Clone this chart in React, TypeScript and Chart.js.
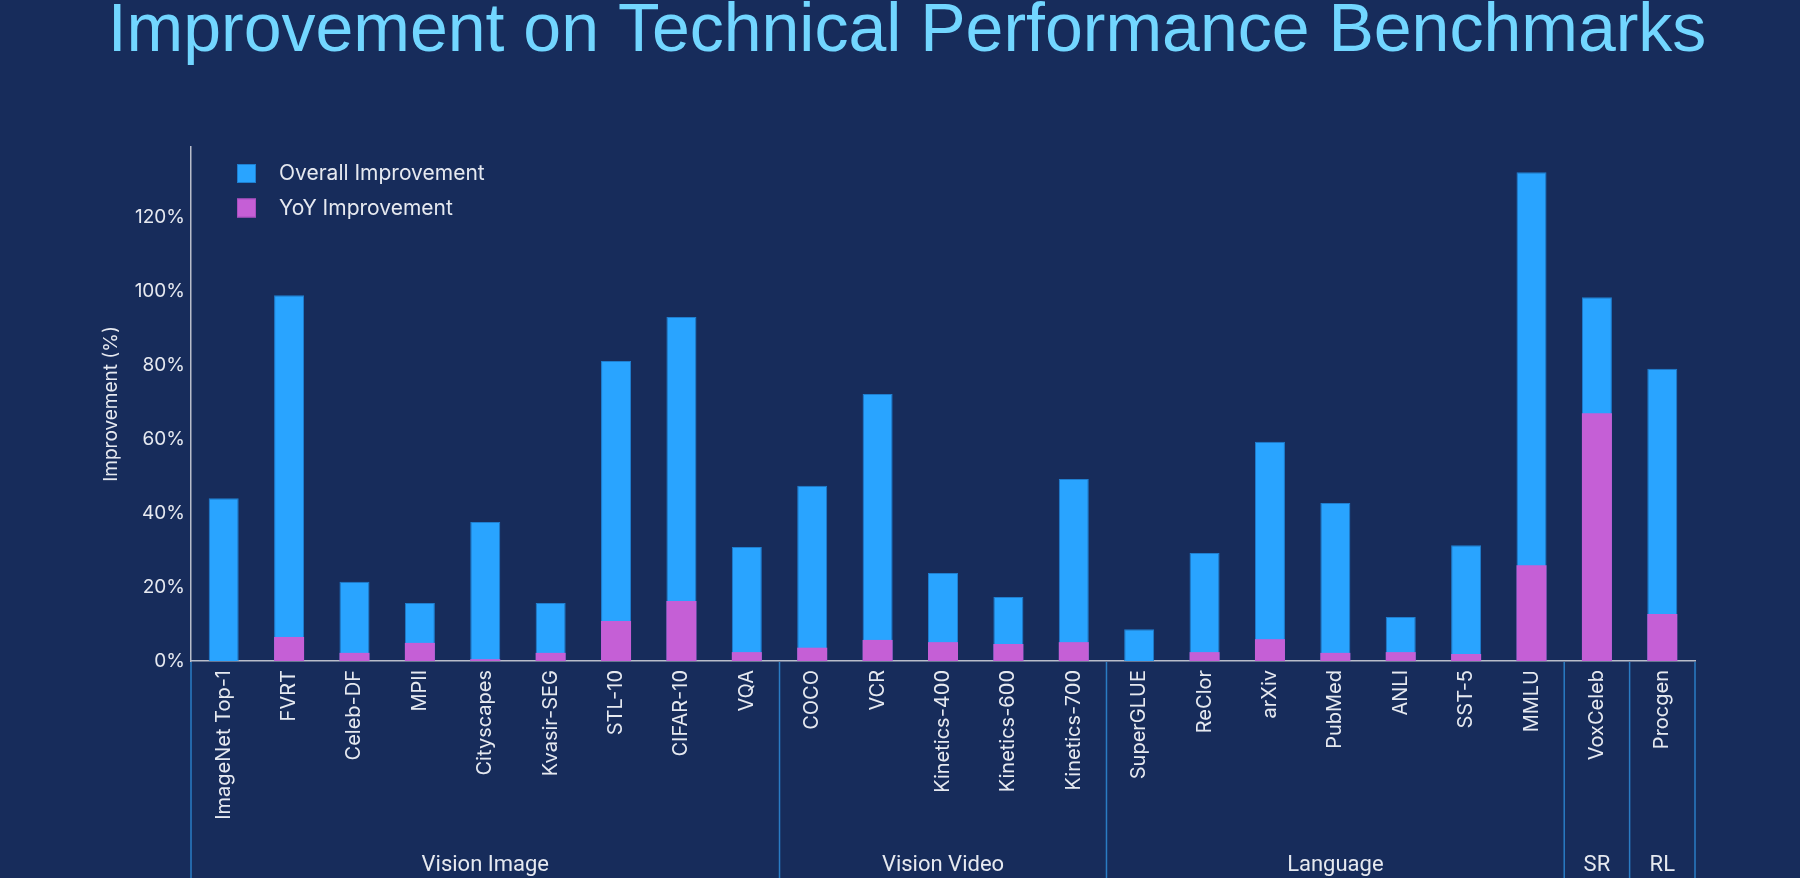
import React, { useEffect, useRef } from 'react';
import { Chart, registerables } from 'chart.js';

Chart.register(...registerables);

const TITLE = 'Improvement on Technical Performance Benchmarks';

const categories = [
  'ImageNet Top-1', 'FVRT', 'Celeb-DF', 'MPII', 'Cityscapes', 'Kvasir-SEG', 'STL-10', 'CIFAR-10', 'VQA',
  'COCO', 'VCR', 'Kinetics-400', 'Kinetics-600', 'Kinetics-700',
  'SuperGLUE', 'ReClor', 'arXiv', 'PubMed', 'ANLI', 'SST-5', 'MMLU',
  'VoxCeleb',
  'Procgen',
];

const overallImprovement = [
  44, 98.9, 21.4, 15.7, 37.6, 15.7, 81.1, 93, 30.8,
  47.4, 72.2, 23.8, 17.3, 49.2,
  8.6, 29.2, 59.3, 42.7, 11.9, 31.3, 132.2,
  98.4,
  79,
];

const yoyImprovement = [
  0, 6.5, 2.2, 4.9, 0.5, 2.2, 10.8, 16.2, 2.4,
  3.6, 5.7, 5.1, 4.6, 5.1,
  0, 2.4, 5.9, 2.2, 2.4, 1.9, 25.9,
  67,
  12.7,
];

const groupNames = ['Vision Image', 'Vision Video', 'Language', 'SR', 'RL'];
const groupSizes = [9, 5, 7, 1, 1];

const yTickValues = [0, 20, 40, 60, 80, 100, 120];

const BG = '#172c5b';
const BLUE = '#29a4ff';
const BLUE_BORDER = '#1f7fd0';
const PURPLE = '#c55fd6';
const PURPLE_BORDER = '#a94fc0';
const TEXT = '#e6e9f0';
const TITLE_COLOR = '#72d6ff';
const GROUP_LINE = '#2a7cc4';
const FONT = 'Inter';

const decorPlugin = {
  id: 'decor',
  afterDraw(chart: any) {
    const { ctx, chartArea, scales } = chart;
    const xs = scales.x;
    ctx.save();

    // Title
    ctx.font = '400 68px "Liberation Sans"';
    ctx.fillStyle = TITLE_COLOR;
    ctx.textAlign = 'center';
    ctx.textBaseline = 'alphabetic';
    ctx.fillText(TITLE, 907, 51);

    // Legend (vertical, inside chart area)
    const lx = chartArea.left + 46;
    let ly = chartArea.top + 17;
    ctx.font = `400 21px ${FONT}`;
    ctx.textAlign = 'left';
    ctx.textBaseline = 'middle';
    chart.data.datasets.forEach((ds: any) => {
      ctx.fillStyle = ds.backgroundColor;
      ctx.fillRect(lx, ly, 19, 19);
      ctx.strokeStyle = ds.borderColor;
      ctx.lineWidth = 1;
      ctx.strokeRect(lx + 0.5, ly + 0.5, 18, 18);
      ctx.fillStyle = TEXT;
      ctx.fillText(ds.label, lx + 42, ly + 10);
      ly += 34.5;
    });

    // Group separators and labels
    const step = xs.getPixelForValue(1) - xs.getPixelForValue(0);
    const bottom = chart.height;
    const top = chartArea.bottom + 1;
    ctx.strokeStyle = GROUP_LINE;
    ctx.lineWidth = 1.5;
    let idx = 0;
    const boundaries: number[] = [xs.getPixelForValue(0) - step / 2];
    groupSizes.forEach((n) => {
      idx += n;
      boundaries.push(xs.getPixelForValue(idx - 1) + step / 2);
    });
    boundaries.forEach((bx) => {
      ctx.beginPath();
      ctx.moveTo(bx, top);
      ctx.lineTo(bx, bottom);
      ctx.stroke();
    });
    ctx.font = '400 22px Roboto';
    ctx.fillStyle = TEXT;
    ctx.textAlign = 'center';
    ctx.textBaseline = 'alphabetic';
    groupNames.forEach((g, i) => {
      const cx = (boundaries[i] + boundaries[i + 1]) / 2;
      ctx.fillText(g, cx, 871);
    });

    ctx.restore();
  },
};

export default function App() {
  const ref = useRef<HTMLCanvasElement>(null);

  useEffect(() => {
    document.body.style.margin = '0';
    const chart = new Chart(ref.current as HTMLCanvasElement, {
      type: 'bar',
      data: {
        labels: categories,
        datasets: [
          {
            label: 'Overall Improvement',
            data: overallImprovement,
            backgroundColor: BLUE,
            borderColor: BLUE_BORDER,
            borderWidth: 1,
            order: 2,
          },
          {
            label: 'YoY Improvement',
            data: yoyImprovement,
            backgroundColor: PURPLE,
            borderColor: PURPLE_BORDER,
            borderWidth: 0,
            order: 1,
          },
        ],
      },
      options: {
        animation: false,
        responsive: true,
        maintainAspectRatio: false,
        layout: { padding: { top: 147, left: 0, right: 105, bottom: 0 } },
        datasets: {
          bar: { categoryPercentage: 1, barPercentage: 0.459 },
        },
        plugins: {
          legend: { display: false },
          title: { display: false },
          tooltip: { enabled: false },
        },
        scales: {
          x: {
            stacked: true,
            grid: { display: false, drawTicks: false, tickLength: 0 },
            border: { display: true, color: '#b9bdca', width: 1.5 },
            ticks: {
              autoSkip: false,
              minRotation: 90,
              maxRotation: 90,
              padding: 9,
              color: TEXT,
              font: { family: FONT, size: 20 },
            },
            afterFit: (scale: any) => {
              scale.height = 217;
            },
          },
          y: {
            stacked: false,
            min: 0,
            max: 139,
            grid: { display: false, drawTicks: false, tickLength: 0 },
            border: { display: true, color: '#b9bdca', width: 1.5 },
            afterBuildTicks: (scale: any) => {
              scale.ticks = yTickValues.map((v) => ({ value: v }));
            },
            ticks: {
              padding: 6,
              color: TEXT,
              font: { family: FONT, size: 19 },
              callback: (v: any) => `${v}%`,
            },
            title: {
              display: true,
              text: 'Improvement (%)',
              color: TEXT,
              font: { family: FONT, size: 19 },
              padding: { top: 100, bottom: 0 },
            },
            afterFit: (scale: any) => {
              scale.width = 191;
            },
          },
        },
      },
      plugins: [decorPlugin],
    });
    return () => chart.destroy();
  }, []);

  return (
    <div
      style={{
        position: 'fixed',
        left: 0,
        top: 0,
        width: 1800,
        height: 878,
        background: BG,
      }}
    >
      <canvas ref={ref} />
    </div>
  );
}
